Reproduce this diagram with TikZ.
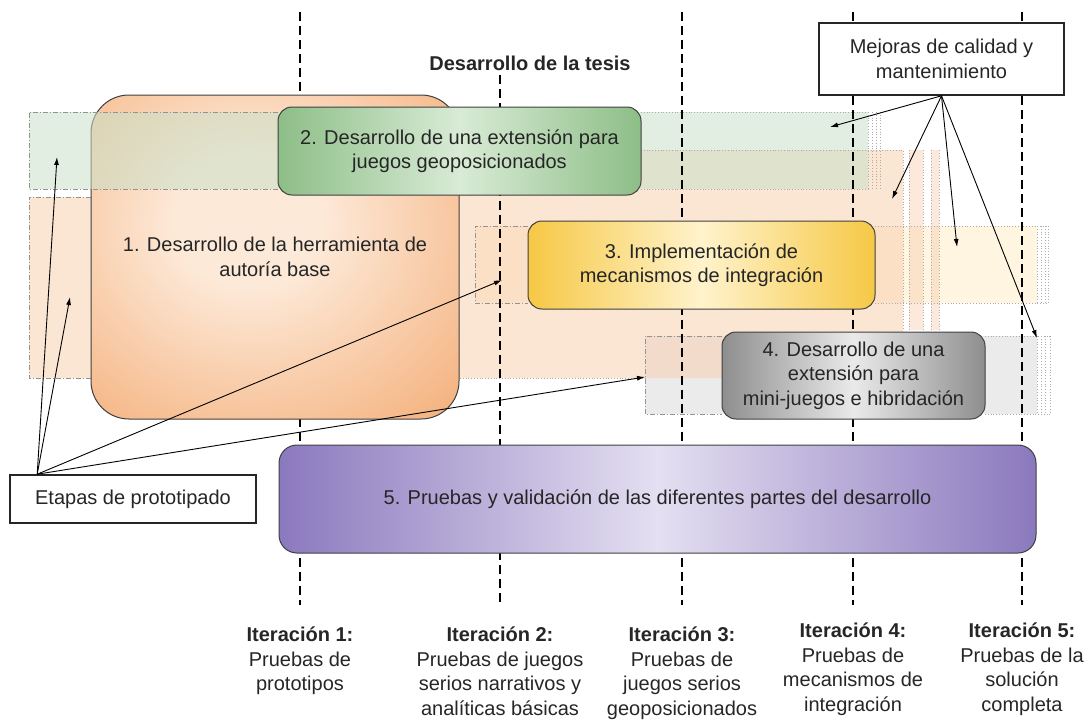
\documentclass[tikz,border=0pt]{standalone}
\usepackage{fontspec}
\setmainfont{Liberation Sans}
\usetikzlibrary{arrows.meta}

\definecolor{ordeep}{HTML}{F2A366}
\definecolor{orglow}{HTML}{FDE9D8}
\definecolor{grdeep}{HTML}{8DBE87}
\definecolor{grglow}{HTML}{D9EBD6}
\definecolor{yedeep}{HTML}{F6C845}
\definecolor{yeglow}{HTML}{FFF3CC}
\definecolor{gydeep}{HTML}{8E8E8E}
\definecolor{gyglow}{HTML}{EAEAEA}
\definecolor{pudeep}{HTML}{8B79BE}
\definecolor{puglow}{HTML}{E4DFF1}
\definecolor{grband}{HTML}{C9E0C8}
\definecolor{orband}{HTML}{F8CFAF}
\definecolor{yeband}{HTML}{FFF5E1}
\definecolor{gyband}{HTML}{EBEBEB}

\pgfdeclareradialshading{orangeglow}{\pgfpoint{-4bp}{6bp}}{color(0bp)=(orglow); color(10bp)=(orglow); color(46bp)=(ordeep); color(100bp)=(ordeep)}

\begin{document}
\begin{tikzpicture}[x=1pt, y=-1pt,
    every node/.style={font=\fontsize{20}{24.5}\selectfont, text=black!85},
    band/.style={draw=gray!85, line width=0.8pt, dash pattern=on 5pt off 2pt on 1pt off 2pt},
    trail/.style={draw=gray!65, line width=0.8pt, dotted},
    stage/.style={draw=black!75, line width=1pt, rounded corners=14pt, align=center, inner sep=0pt},
    note/.style={draw=black!85, line width=1.6pt, fill=white, align=center, inner sep=0pt},
    iter/.style={line width=2.5pt, dash pattern=on 9pt off 5pt},
    tip/.style={line width=0.9pt, -{Latex[length=8pt, width=5pt]}},
    lbl/.style={anchor=north, align=center, inner sep=0pt}]
    % \draw [help lines, step=50] (0,0) grid (1091,720);
    \useasboundingbox (0,0) rectangle (1091,720);

    % bands showing how long each stage lasts
    \fill[yeband] (475,226) rectangle (1037,303);
    \fill[gyband] (645,336) rectangle (1037,414);
    \fill[orband, fill opacity=0.55] (29,197) -- (91,197) -- (91,150) -- (903,150) -- (903,378) -- (29,378) -- cycle;
    \fill[orband, fill opacity=0.45] (909,150) rectangle (923,330);
    \fill[orband, fill opacity=0.45] (931,150) rectangle (939,330);
    \fill[grband, fill opacity=0.55] (460,112) rectangle (868,189);

    \draw[band] (91,197) -- (29,197) -- (29,378) -- (91,378);
    \draw[trail] (460,378) -- (645,378);
    \draw[trail] (641,150) -- (903,150) -- (903,330);
    \foreach \x in {909,923,931,939} \draw[trail] (\x,150) -- (\x,330);
    \draw[band] (528,226) -- (475,226) -- (475,303) -- (528,303);
    \draw[trail] (875,226) -- (1048,226);
    \draw[trail] (875,303) -- (1048,303);
    \foreach \x in {1037,1041,1045,1048} \draw[trail] (\x,226) -- (\x,303);
    \draw[band] (722,336) -- (645,336) -- (645,414) -- (722,414);
    \draw[trail] (985,336) -- (1050,336);
    \draw[trail] (985,414) -- (1050,414);
    \foreach \x in {1037,1041,1045,1050} \draw[trail] (\x,336) -- (\x,414);

    % iterations
    \foreach \x in {300,682,853,1022} \draw[iter] (\x,12) -- (\x,605);
    \draw[iter] (500,75) -- (500,605);

    \node[stage, rounded corners=38pt, shading=orangeglow, minimum width=368pt, minimum height=324pt] (authoring) at (275,257) {1. Desarrollo de la herramienta de\\autoría base};

    \fill[grband, fill opacity=0.55] (29,112) rectangle (460,189);
    \draw[band] (278,112) -- (29,112) -- (29,189) -- (278,189);
    \draw[trail] (641,112) -- (868,112);
    \draw[trail] (641,189) -- (868,189);
    \foreach \x in {868,872,876,880} \draw[trail] (\x,112) -- (\x,189);

    \node[stage, left color=grdeep, right color=grdeep, middle color=grglow, minimum width=363pt, minimum height=88pt] (geo) at (459.5,151) {2. Desarrollo de una extensión para\\juegos geoposicionados};
    \node[stage, left color=yedeep, right color=yedeep, middle color=yeglow, minimum width=347pt, minimum height=88pt] (integr) at (701.5,265) {3. Implementación de\\mecanismos de integración};
    \node[stage, left color=gydeep, right color=gydeep, middle color=gyglow, minimum width=263pt, minimum height=87pt] (minig) at (853.5,375.5) {4. Desarrollo de una\\extensión para\\mini-juegos e hibridación};
    \node[stage, rounded corners=18pt, left color=pudeep, right color=pudeep, middle color=puglow, minimum width=757pt, minimum height=108pt] (tests) at (657.5,499) {5. Pruebas y validación de las diferentes partes del desarrollo};

    \node[font=\fontsize{20}{24}\selectfont\bfseries] (thesis) at (530,63) {Desarrollo de la tesis};
    \node[note, minimum width=245pt, minimum height=72pt] (upkeep) at (941.5,59) {Mejoras de calidad y\\mantenimiento};
    \node[note, minimum width=246pt, minimum height=48pt] (proto) at (133,499) {Etapas de prototipado};

    \coordinate (pGreen) at (57,157);
    \coordinate (pOrange) at (70,297);
    \coordinate (pYellow) at (502,280);
    \coordinate (pGray) at (645,377);
    \coordinate (uGreen) at (830,127);
    \coordinate (uOrange) at (892,199);
    \coordinate (uYellow) at (957,247);
    \coordinate (uGray) at (1037,338);

    \foreach \t in {pGreen,pOrange,pYellow,pGray}
        \draw[tip] ([xshift=28pt]proto.north west) -- (\t);
    \foreach \t in {uGreen,uOrange,uYellow,uGray}
        \draw[tip] (upkeep.south) -- (\t);

    \node[lbl] (it1) at (300,627) {\textbf{Iteración 1:}\\Pruebas de\\prototipos};
    \node[lbl] (it2) at (500,627) {\textbf{Iteración 2:}\\Pruebas de juegos\\serios narrativos y\\analíticas básicas};
    \node[lbl] (it3) at (682,627) {\textbf{Iteración 3:}\\Pruebas de\\juegos serios\\geoposicionados};
    \node[lbl] (it4) at (853,623) {\textbf{Iteración 4:}\\Pruebas de\\mecanismos de\\integración};
    \node[lbl] (it5) at (1022,623) {\textbf{Iteración 5:}\\Pruebas de la\\solución\\completa};
\end{tikzpicture}
\end{document}
